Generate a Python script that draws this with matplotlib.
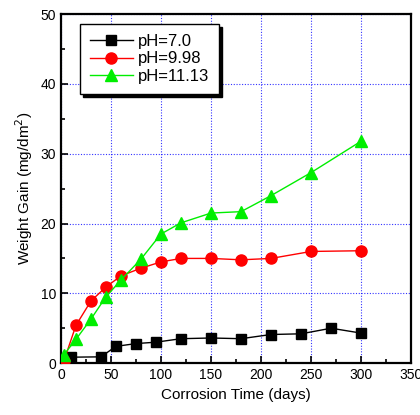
import matplotlib
matplotlib.use("Agg")
import matplotlib.pyplot as plt
from matplotlib.ticker import MultipleLocator

plt.rcParams["font.family"] = ["Liberation Sans", "DejaVu Sans"]

# weight gain vs corrosion time
days_ph70 = [3, 10, 40, 55, 75, 95, 120, 150, 180, 210, 240, 270, 300]
gain_ph70 = [0.3, 0.85, 0.9, 2.4, 2.8, 3.0, 3.5, 3.6, 3.5, 4.1, 4.2, 5.0, 4.3]

days_ph998 = [3, 15, 30, 45, 60, 80, 100, 120, 150, 180, 210, 250, 300]
gain_ph998 = [0.3, 5.4, 8.9, 10.9, 12.5, 13.6, 14.5, 15.0, 15.0, 14.8, 15.0, 16.0, 16.1]

days_ph1113 = [3, 15, 30, 45, 60, 80, 100, 120, 150, 180, 210, 250, 300]
gain_ph1113 = [1.2, 3.4, 6.3, 9.5, 11.9, 14.9, 18.5, 20.1, 21.5, 21.7, 24.0, 27.3, 31.8]

labels = ["pH=7.0", "pH=9.98", "pH=11.13"]

fig = plt.figure(figsize=(4.2, 4.15), dpi=100)
ax = fig.add_axes([0.145, 0.125, 0.834, 0.841])

ax.plot(days_ph70, gain_ph70, "-s", color="black", lw=1, ms=7,
        label=labels[0], zorder=3)
ax.plot(days_ph998, gain_ph998, "-o", color="red", lw=1, ms=8,
        label=labels[1], zorder=3)
ax.plot(days_ph1113, gain_ph1113, "-^", color="#00ee00", lw=1, ms=9,
        label=labels[2], zorder=3)

ax.set_xlim(0, 350)
ax.set_ylim(0, 50)
ax.xaxis.set_major_locator(MultipleLocator(50))
ax.xaxis.set_minor_locator(MultipleLocator(25))
ax.yaxis.set_major_locator(MultipleLocator(10))
ax.yaxis.set_minor_locator(MultipleLocator(5))
ax.tick_params(which="both", direction="in", labelsize=10, width=1.2)
ax.tick_params(which="major", length=5)
ax.tick_params(which="minor", length=3)
ax.grid(True, which="major", color="blue", ls=(0, (1, 1.5)), lw=0.8, alpha=0.8)
ax.set_axisbelow(True)
for s in ax.spines.values():
    s.set_linewidth(1.6)

ax.set_xlabel("Corrosion Time (days)", fontsize=11)
ax.set_ylabel("Weight Gain (mg/dm$^2$)", fontsize=11)

leg = ax.legend(loc="upper left", bbox_to_anchor=(0.054, 0.972), fontsize=12,
                handlelength=2.6, handletextpad=0.3, borderaxespad=0,
                fancybox=False, framealpha=1, edgecolor="black",
                borderpad=0.6, labelspacing=0.15,
                shadow={"color": "black", "alpha": 1})
leg.get_frame().set_linewidth(1)

fig.savefig("out.png", dpi=100)
